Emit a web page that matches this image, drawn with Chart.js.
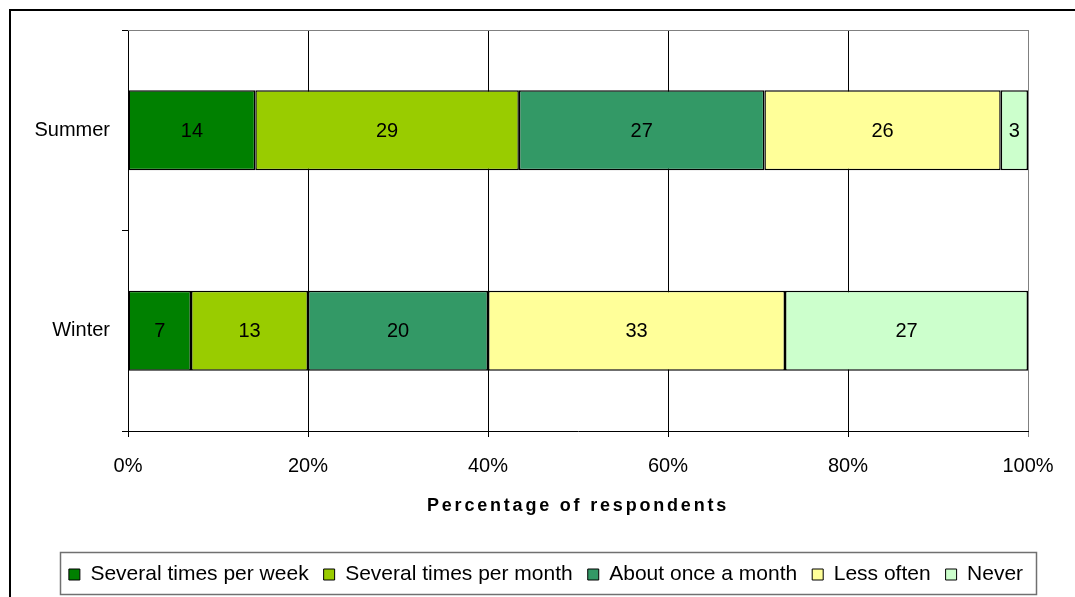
<!DOCTYPE html>
<html>
<head>
<meta charset="utf-8">
<script src="https://cdn.jsdelivr.net/npm/chart.js@4.4.1/dist/chart.umd.min.js"></script>
<style>
  html, body { margin: 0; padding: 0; background: #fff; }
  #wrap { width: 1075px; height: 597px; position: relative; }
</style>
</head>
<body>
<div id="wrap"><canvas id="chart"></canvas></div>
<script>
// data (raw counts shown on the bars)
const categories = ['Summer', 'Winter'];
const seriesNames = ['Several times per week', 'Several times per month', 'About once a month', 'Less often', 'Never'];
const seriesColors = ['#008000', '#99CC00', '#339966', '#FFFF99', '#CCFFCC'];
const weekly = [14, 7];
const monthly = [29, 13];
const onceMonth = [27, 20];
const lessOften = [26, 33];
const never = [3, 27];
const xTicks = [0, 20, 40, 60, 80, 100];
const axisTitle = 'Percentage of respondents';

const FONT = "'Liberation Sans', Arial, sans-serif";
const allSeries = [weekly, monthly, onceMonth, lessOften, never];

// 100% stacked: each bar is scaled to its category total
const totals = categories.map((c, i) => allSeries.reduce((s, arr) => s + arr[i], 0));

const datasets = allSeries.map((arr, k) => ({
  label: seriesNames[k],
  data: arr.map((v, i) => v / totals[i] * 100),
  raw: arr,
  backgroundColor: seriesColors[k],
  borderColor: '#000',
  borderWidth: 1.5,
  borderSkipped: false,
  categoryPercentage: 1,
  barPercentage: 0.4
}));

// white background, outer frame, gray top edge of plot
const framePlugin = {
  id: 'frame',
  afterLayout(chart) {
    // legend sits a bit right of the plot centre in the original
    chart.legend.left += 32;
    chart.legend.right += 32;
  },
  beforeDraw(chart) {
    const ctx = chart.ctx;
    ctx.save();
    ctx.fillStyle = '#fff';
    ctx.fillRect(0, 0, chart.width, chart.height);
    ctx.strokeStyle = '#000';
    ctx.lineWidth = 2;
    ctx.beginPath();
    ctx.moveTo(10, chart.height + 5);
    ctx.lineTo(10, 10);
    ctx.lineTo(chart.width + 5, 10);
    ctx.stroke();
    ctx.restore();
  },
  beforeDatasetsDraw(chart) {
    const a = chart.chartArea;
    const ctx = chart.ctx;
    ctx.save();
    ctx.strokeStyle = '#808080';
    ctx.lineWidth = 1;
    ctx.beginPath();
    ctx.moveTo(a.left, a.top + 0.5);
    ctx.lineTo(a.right, a.top + 0.5);
    ctx.stroke();
    ctx.restore();
  }
};

// numbers in the middle of each segment
const labelPlugin = {
  id: 'segLabels',
  afterDatasetsDraw(chart) {
    const ctx = chart.ctx;
    ctx.save();
    ctx.font = '20px ' + FONT;
    ctx.fillStyle = '#000';
    ctx.textAlign = 'center';
    ctx.textBaseline = 'middle';
    chart.data.datasets.forEach((ds, di) => {
      chart.getDatasetMeta(di).data.forEach((bar, i) => {
        ctx.fillText(String(ds.raw[i]), (bar.x + bar.base) / 2, bar.y + 1);
      });
    });
    ctx.restore();
  }
};

// axis title (spaced letters) and box round the legend
const extrasPlugin = {
  id: 'extras',
  afterDraw(chart) {
    const ctx = chart.ctx;
    const a = chart.chartArea;
    ctx.save();
    ctx.font = 'bold 18px ' + FONT;
    ctx.fillStyle = '#000';
    ctx.textAlign = 'center';
    ctx.textBaseline = 'middle';
    ctx.letterSpacing = '2.8px';
    ctx.fillText(axisTitle, (a.left + a.right) / 2, 506);
    ctx.restore();

    ctx.save();
    ctx.strokeStyle = '#707070';
    ctx.lineWidth = 1.5;
    ctx.strokeRect(60.5, 552.5, 976, 42);
    ctx.restore();
  }
};

new Chart(document.getElementById('chart'), {
  type: 'bar',
  data: { labels: categories, datasets },
  plugins: [framePlugin, labelPlugin, extrasPlugin],
  options: {
    indexAxis: 'y',
    responsive: true,
    maintainAspectRatio: false,
    animation: false,
    layout: { padding: { left: 0, top: 30, right: 47, bottom: 2 } },
    plugins: {
      tooltip: { enabled: false },
      legend: {
        position: 'bottom',
        labels: {
          font: { size: 21, family: FONT },
          color: '#000',
          boxWidth: 11,
          boxHeight: 11,
          padding: 15,
          generateLabels(chart) {
            return chart.data.datasets.map((ds, i) => ({
              text: ds.label,
              fillStyle: ds.backgroundColor,
              strokeStyle: '#000',
              lineWidth: 1,
              datasetIndex: i
            }));
          }
        }
      }
    },
    scales: {
      x: {
        stacked: true,
        min: 0,
        max: 100,
        afterBuildTicks(scale) {
          scale.ticks = xTicks.map(v => ({ value: v }));
        },
        afterFit(scale) { scale.height = 118; },
        ticks: {
          font: { size: 20, family: FONT },
          color: '#000',
          padding: 17,
          maxRotation: 0,
          callback: v => v + '%'
        },
        grid: {
          color: ctx => (ctx.tick && ctx.tick.value === 100 ? '#808080' : '#000'),
          lineWidth: 1,
          tickLength: 6
        },
        border: { color: '#000', width: 1 }
      },
      y: {
        stacked: true,
        afterFit(scale) { scale.width = 128; },
        ticks: {
          font: { size: 20, family: FONT },
          color: '#000',
          padding: 12
        },
        grid: {
          drawOnChartArea: false,
          offset: true,
          color: '#000',
          tickLength: 6
        },
        border: { color: '#000', width: 1 }
      }
    }
  }
});
</script>
</body>
</html>
